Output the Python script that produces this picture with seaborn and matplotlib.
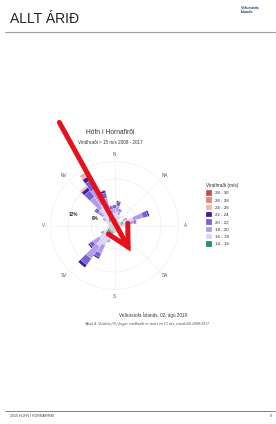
import numpy as np
import matplotlib
matplotlib.use("Agg")
import matplotlib.pyplot as plt
from matplotlib.patches import FancyArrowPatch
from matplotlib.lines import Line2D
import seaborn as sns

# Wind directions (degrees) and frequency (%) per speed bin
directions = [0, 10, 20, 30, 40, 50, 60, 70, 80, 90, 100, 110, 120, 130, 140, 150, 160, 170,
              180, 190, 200, 210, 220, 230, 240, 250, 260, 270, 280, 290, 300, 310, 320, 330, 340, 350]

bin_labels = ['14 - 16', '16 - 18', '18 - 20', '20 - 22', '22 - 24', '24 - 26', '26 - 28', '28 - 30']

f14_16 = [1.8, 2.0, 1.8, 1.4, 1.2, 1.2, 1.6, 2.4, 2.4, 1.6, 1.2, 1.0, 1.0, 1.0, 1.0, 1.0, 1.0, 1.0,
          1.4, 2.2, 2.8, 3.0, 3.2, 2.6, 2.0, 1.4, 1.2, 1.2, 1.2, 1.4, 1.6, 2.0, 2.4, 2.6, 2.4, 1.8]
f16_18 = [1.4, 1.6, 1.0, 0.6, 0.3, 0.3, 0.9, 2.6, 1.4, 0.6, 0.3, 0.2, 0.2, 0.2, 0.1, 0.1, 0.1, 0.1,
          0.4, 0.6, 1.0, 2.6, 3.4, 2.3, 1.0, 0.5, 0.3, 0.3, 0.3, 0.5, 0.9, 1.7, 3.0, 3.6, 2.4, 1.4]
f18_20 = [1.2, 1.5, 1.0, 0.5, 0.2, 0.2, 0.8, 2.6, 1.2, 0.4, 0.1, 0.1, 0.1, 0.1, 0.0, 0.0, 0.0, 0.0,
          0.2, 0.3, 0.6, 2.4, 3.8, 2.0, 0.7, 0.2, 0.2, 0.2, 0.2, 0.2, 0.7, 1.6, 3.6, 4.4, 2.6, 1.1]
f20_22 = [0.7, 0.9, 0.5, 0.2, 0.0, 0.0, 0.4, 1.3, 0.6, 0.1, 0.0, 0.0, 0.0, 0.0, 0.0, 0.0, 0.0, 0.0,
          0.1, 0.1, 0.3, 1.1, 2.0, 1.0, 0.3, 0.0, 0.0, 0.0, 0.0, 0.1, 0.3, 0.8, 2.0, 2.6, 1.4, 0.7]
f22_24 = [0.3, 0.4, 0.2, 0.0, 0.0, 0.0, 0.0, 0.5, 0.2, 0.0, 0.0, 0.0, 0.0, 0.0, 0.0, 0.0, 0.0, 0.0,
          0.0, 0.0, 0.0, 0.5, 0.9, 0.5, 0.0, 0.0, 0.0, 0.0, 0.0, 0.0, 0.0, 0.3, 1.0, 1.2, 0.6, 0.3]
f24_26 = [0.0, 0.0, 0.0, 0.0, 0.0, 0.0, 0.0, 0.0, 0.0, 0.0, 0.0, 0.0, 0.0, 0.0, 0.0, 0.0, 0.0, 0.0,
          0.0, 0.0, 0.0, 0.0, 0.1, 0.0, 0.0, 0.0, 0.0, 0.0, 0.0, 0.0, 0.0, 0.1, 0.4, 0.6, 0.2, 0.0]
f26_28 = [0.0, 0.0, 0.0, 0.0, 0.0, 0.0, 0.0, 0.0, 0.0, 0.0, 0.0, 0.0, 0.0, 0.0, 0.0, 0.0, 0.0, 0.0,
          0.0, 0.0, 0.0, 0.0, 0.0, 0.0, 0.0, 0.0, 0.0, 0.0, 0.0, 0.0, 0.0, 0.0, 0.2, 0.3, 0.1, 0.0]
f28_30 = [0.0, 0.0, 0.0, 0.0, 0.0, 0.0, 0.0, 0.0, 0.0, 0.0, 0.0, 0.0, 0.0, 0.0, 0.0, 0.0, 0.0, 0.0,
          0.0, 0.0, 0.0, 0.0, 0.0, 0.0, 0.0, 0.0, 0.0, 0.0, 0.0, 0.0, 0.0, 0.0, 0.0, 0.2, 0.0, 0.0]

compass_labels = ['N', 'NA', 'A', 'SA', 'S', 'SV', 'V', 'NV']
compass_angles = [0, 45, 90, 135, 180, 225, 270, 315]
radial_ticks = [6, 12]

sns.set_style("white")
plt.rcParams['font.family'] = ['Liberation Sans', 'DejaVu Sans']

palette = sns.color_palette(['#23907f', '#dcd2f8', '#b09ded', '#7a60d2',
                             '#3d22a0', '#f5b5b5', '#ec8270', '#c9504a'])

fig = plt.figure(figsize=(2.76, 4.24), dpi=100)
fig.patch.set_facecolor('white')

# page header / footer
fig.text(10 / 276, 1 - 19 / 424, 'ALLT ÁRIÐ', fontsize=10, va='center', ha='left', color='#222222')
fig.text(241 / 276, 1 - 10 / 424, 'Veðurstofa\nÍslands', fontsize=2.6, va='center', ha='left',
         color='#1d3f7a', fontweight='bold', linespacing=1.1)
fig.lines.append(Line2D([5 / 276, 275 / 276], [1 - 32 / 424, 1 - 32 / 424], transform=fig.transFigure,
                        color='#a0a0a0', lw=0.8))
fig.lines.append(Line2D([5 / 276, 275 / 276], [1 - 411 / 424, 1 - 411 / 424], transform=fig.transFigure,
                        color='#707070', lw=0.6))
fig.text(10 / 276, 1 - 416 / 424, '2019 HÖFN Í HORNAFIRÐI', fontsize=2.6, va='center', ha='left', color='#444444')
fig.text(272 / 276, 1 - 416 / 424, '9', fontsize=2.6, va='center', ha='right', color='#444444')

# wind rose
ax = fig.add_axes([0.183, 0.3172, 0.4638, 0.3019], projection='polar')
ax.set_theta_zero_location('N')
ax.set_theta_direction(-1)
theta = np.deg2rad(directions)
width = np.deg2rad(10)

series = [f14_16, f16_18, f18_20, f20_22, f22_24, f24_26, f26_28, f28_30]
bottom = np.zeros(len(directions))
handles = []
for lab, vals, col in zip(bin_labels, series, palette):
    vals = np.array(vals)
    b = ax.bar(theta, vals, width=width, bottom=bottom, color=col, edgecolor='white',
               linewidth=0.15, label=lab, zorder=3)
    handles.append(b)
    bottom += vals

# light grey hub in the middle of the rose
hub = np.linspace(0, 2 * np.pi, 100)
ax.fill_between(hub, 0, 1.6, color='#d4d4d4', zorder=4, lw=0)

rmax = 16.5
ax.set_ylim(0, rmax)
ax.set_yticks(radial_ticks)
ax.set_yticklabels([f'{t}%' for t in radial_ticks], fontsize=3.3, fontweight='bold', color='#333333')
ax.set_rlabel_position(280)
ax.set_xticks(np.deg2rad(compass_angles))
ax.set_xticklabels([])
for ang, lab in zip(compass_angles, compass_labels):
    ax.text(np.deg2rad(ang), rmax * 1.11, lab, fontsize=3.3, color='#555555',
            ha='center', va='center', clip_on=False)
ax.grid(color='#ececec', lw=0.4)
ax.spines['polar'].set_color('#ececec')
ax.spines['polar'].set_linewidth(0.4)

fig.text(110 / 276, 1 - 133 / 424, 'Höfn í Hornafirði', fontsize=4.8, ha='center', va='center', color='#333333')
fig.text(110 / 276, 1 - 142 / 424, 'Vindhraði > 15 m/s 2008 - 2017', fontsize=3.3, ha='center',
         va='center', color='#333333')

leg = fig.legend(handles[::-1], bin_labels[::-1], loc='upper left', bbox_to_anchor=(204 / 276, 1 - 181 / 424),
                 frameon=False, fontsize=3.2, title='Vindhraði (m/s)', title_fontsize=3.4,
                 handlelength=1.3, handleheight=1.5, labelspacing=0.42, borderpad=0, handletextpad=0.6,
                 alignment='left')

fig.text(153 / 276, 1 - 315 / 424, 'Veðurstofa Íslands, 02. ágú 2019', fontsize=3.3, ha='center',
         va='center', color='#333333')
fig.text(147 / 276, 1 - 324 / 424,
         'Mynd 4. Vindrós (%) þegar vindhraði er meiri en 15 m/s, tímabilið 2008-2017.',
         fontsize=2.9, ha='center', va='center', color='#444444', style='italic',
         family=['Liberation Serif', 'DejaVu Serif'])

# red arrow drawn over the chart (open head)
arrow = FancyArrowPatch((58 / 276, 1 - 120 / 424), (132 / 276, 1 - 254 / 424), transform=fig.transFigure,
                        arrowstyle='->,head_length=0.75,head_width=0.4', mutation_scale=20,
                        color='#e8101a', lw=3.6, capstyle='round', joinstyle='miter', zorder=10)
fig.patches.append(arrow)

fig.savefig('out.png', dpi=100)
